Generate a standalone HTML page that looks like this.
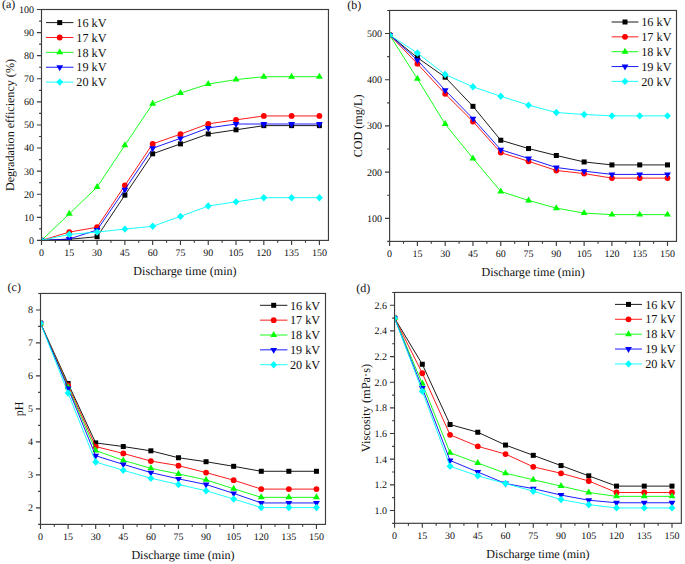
<!DOCTYPE html>
<html><head><meta charset="utf-8"><style>
html,body{margin:0;padding:0;background:#fff;}
body{width:685px;height:564px;position:relative;overflow:hidden;}
svg text{font-family:"Liberation Serif",serif;fill:#111;text-rendering:geometricPrecision;}
</style></head><body>
<svg width="685" height="564" viewBox="0 0 685 564" style="position:absolute;left:0;top:0">
<defs>
<clipPath id="clipa"><rect x="41.5" y="9.5" width="286.95" height="230.9"/></clipPath>
<clipPath id="clipb"><rect x="389.6" y="10.45" width="286.9" height="230.95000000000002"/></clipPath>
<clipPath id="clipc"><rect x="40.5" y="293.45" width="285.0" height="230.95"/></clipPath>
<clipPath id="clipd"><rect x="394.55" y="292.45" width="286.8" height="230.84999999999997"/></clipPath>
</defs>
<g><g clip-path="url(#clipa)"><polyline points="41.50,240.40 69.29,239.25 97.08,236.71 124.87,195.14 152.66,153.81 180.45,143.88 208.24,133.96 236.03,129.80 263.82,125.64 291.61,125.64 319.40,125.64" fill="none" stroke="#000000" stroke-width="0.9" stroke-linejoin="round"/><rect x="39.00" y="237.90" width="5.00" height="5.00" fill="#000000"/><rect x="66.79" y="236.75" width="5.00" height="5.00" fill="#000000"/><rect x="94.58" y="234.21" width="5.00" height="5.00" fill="#000000"/><rect x="122.37" y="192.64" width="5.00" height="5.00" fill="#000000"/><rect x="150.16" y="151.31" width="5.00" height="5.00" fill="#000000"/><rect x="177.95" y="141.38" width="5.00" height="5.00" fill="#000000"/><rect x="205.74" y="131.46" width="5.00" height="5.00" fill="#000000"/><rect x="233.53" y="127.30" width="5.00" height="5.00" fill="#000000"/><rect x="261.32" y="123.14" width="5.00" height="5.00" fill="#000000"/><rect x="289.11" y="123.14" width="5.00" height="5.00" fill="#000000"/><rect x="316.90" y="123.14" width="5.00" height="5.00" fill="#000000"/><polyline points="41.50,240.40 69.29,232.09 97.08,227.24 124.87,185.45 152.66,143.88 180.45,134.19 208.24,123.80 236.03,119.87 263.82,115.94 291.61,115.94 319.40,115.94" fill="none" stroke="#ff0000" stroke-width="0.9" stroke-linejoin="round"/><circle cx="41.50" cy="240.40" r="2.90" fill="#ff0000"/><circle cx="69.29" cy="232.09" r="2.90" fill="#ff0000"/><circle cx="97.08" cy="227.24" r="2.90" fill="#ff0000"/><circle cx="124.87" cy="185.45" r="2.90" fill="#ff0000"/><circle cx="152.66" cy="143.88" r="2.90" fill="#ff0000"/><circle cx="180.45" cy="134.19" r="2.90" fill="#ff0000"/><circle cx="208.24" cy="123.80" r="2.90" fill="#ff0000"/><circle cx="236.03" cy="119.87" r="2.90" fill="#ff0000"/><circle cx="263.82" cy="115.94" r="2.90" fill="#ff0000"/><circle cx="291.61" cy="115.94" r="2.90" fill="#ff0000"/><circle cx="319.40" cy="115.94" r="2.90" fill="#ff0000"/><polyline points="41.50,240.40 69.29,213.85 97.08,187.06 124.87,145.27 152.66,103.71 180.45,93.09 208.24,84.08 236.03,79.58 263.82,76.69 291.61,76.69 319.40,76.69" fill="none" stroke="#00ff00" stroke-width="0.9" stroke-linejoin="round"/><polygon points="41.50,236.42 44.95,242.39 38.05,242.39" fill="#00ff00"/><polygon points="69.29,209.86 72.74,215.84 65.84,215.84" fill="#00ff00"/><polygon points="97.08,183.08 100.53,189.05 93.63,189.05" fill="#00ff00"/><polygon points="124.87,141.29 128.32,147.26 121.42,147.26" fill="#00ff00"/><polygon points="152.66,99.72 156.11,105.70 149.21,105.70" fill="#00ff00"/><polygon points="180.45,89.10 183.90,95.08 177.00,95.08" fill="#00ff00"/><polygon points="208.24,80.10 211.69,86.07 204.79,86.07" fill="#00ff00"/><polygon points="236.03,75.59 239.48,81.57 232.58,81.57" fill="#00ff00"/><polygon points="263.82,72.71 267.27,78.68 260.37,78.68" fill="#00ff00"/><polygon points="291.61,72.71 295.06,78.68 288.16,78.68" fill="#00ff00"/><polygon points="319.40,72.71 322.85,78.68 315.95,78.68" fill="#00ff00"/><polyline points="41.50,240.40 69.29,239.01 97.08,230.01 124.87,189.60 152.66,148.27 180.45,138.34 208.24,127.95 236.03,124.03 263.82,124.03 291.61,124.03 319.40,124.03" fill="none" stroke="#0000ff" stroke-width="0.9" stroke-linejoin="round"/><polygon points="41.50,244.33 44.90,238.44 38.10,238.44" fill="#0000ff"/><polygon points="69.29,242.94 72.69,237.05 65.89,237.05" fill="#0000ff"/><polygon points="97.08,233.94 100.48,228.05 93.68,228.05" fill="#0000ff"/><polygon points="124.87,193.53 128.27,187.64 121.47,187.64" fill="#0000ff"/><polygon points="152.66,152.20 156.06,146.31 149.26,146.31" fill="#0000ff"/><polygon points="180.45,142.27 183.85,136.38 177.05,136.38" fill="#0000ff"/><polygon points="208.24,131.88 211.64,125.99 204.84,125.99" fill="#0000ff"/><polygon points="236.03,127.95 239.43,122.06 232.63,122.06" fill="#0000ff"/><polygon points="263.82,127.95 267.22,122.06 260.42,122.06" fill="#0000ff"/><polygon points="291.61,127.95 295.01,122.06 288.21,122.06" fill="#0000ff"/><polygon points="319.40,127.95 322.80,122.06 316.00,122.06" fill="#0000ff"/><polyline points="41.50,240.40 69.29,234.40 97.08,232.09 124.87,229.09 152.66,226.32 180.45,216.39 208.24,206.00 236.03,201.84 263.82,197.68 291.61,197.68 319.40,197.68" fill="none" stroke="#00ffff" stroke-width="0.9" stroke-linejoin="round"/><polygon points="41.50,236.70 44.95,240.40 41.50,244.10 38.05,240.40" fill="#00ffff"/><polygon points="69.29,230.70 72.74,234.40 69.29,238.10 65.84,234.40" fill="#00ffff"/><polygon points="97.08,228.39 100.53,232.09 97.08,235.79 93.63,232.09" fill="#00ffff"/><polygon points="124.87,225.39 128.32,229.09 124.87,232.79 121.42,229.09" fill="#00ffff"/><polygon points="152.66,222.62 156.11,226.32 152.66,230.02 149.21,226.32" fill="#00ffff"/><polygon points="180.45,212.69 183.90,216.39 180.45,220.09 177.00,216.39" fill="#00ffff"/><polygon points="208.24,202.30 211.69,206.00 208.24,209.70 204.79,206.00" fill="#00ffff"/><polygon points="236.03,198.14 239.48,201.84 236.03,205.54 232.58,201.84" fill="#00ffff"/><polygon points="263.82,193.98 267.27,197.68 263.82,201.38 260.37,197.68" fill="#00ffff"/><polygon points="291.61,193.98 295.06,197.68 291.61,201.38 288.16,197.68" fill="#00ffff"/><polygon points="319.40,193.98 322.85,197.68 319.40,201.38 315.95,197.68" fill="#00ffff"/></g><rect x="41.5" y="9.5" width="286.95" height="230.90" fill="none" stroke="#3c3c3c" stroke-width="1.15"/><text x="34.00" y="243.80" text-anchor="end" font-size="10.0">0</text><text x="34.00" y="220.71" text-anchor="end" font-size="10.0">10</text><text x="34.00" y="197.62" text-anchor="end" font-size="10.0">20</text><text x="34.00" y="174.53" text-anchor="end" font-size="10.0">30</text><text x="34.00" y="151.44" text-anchor="end" font-size="10.0">40</text><text x="34.00" y="128.35" text-anchor="end" font-size="10.0">50</text><text x="34.00" y="105.26" text-anchor="end" font-size="10.0">60</text><text x="34.00" y="82.17" text-anchor="end" font-size="10.0">70</text><text x="34.00" y="59.08" text-anchor="end" font-size="10.0">80</text><text x="34.00" y="35.99" text-anchor="end" font-size="10.0">90</text><text x="34.00" y="12.90" text-anchor="end" font-size="10.0">100</text><text x="41.50" y="256.00" text-anchor="middle" font-size="10.0">0</text><text x="69.29" y="256.00" text-anchor="middle" font-size="10.0">15</text><text x="97.08" y="256.00" text-anchor="middle" font-size="10.0">30</text><text x="124.87" y="256.00" text-anchor="middle" font-size="10.0">45</text><text x="152.66" y="256.00" text-anchor="middle" font-size="10.0">60</text><text x="180.45" y="256.00" text-anchor="middle" font-size="10.0">75</text><text x="208.24" y="256.00" text-anchor="middle" font-size="10.0">90</text><text x="236.03" y="256.00" text-anchor="middle" font-size="10.0">105</text><text x="263.82" y="256.00" text-anchor="middle" font-size="10.0">120</text><text x="291.61" y="256.00" text-anchor="middle" font-size="10.0">135</text><text x="319.40" y="256.00" text-anchor="middle" font-size="10.0">150</text><path d="M36.90,240.40H41.50M36.90,217.31H41.50M36.90,194.22H41.50M36.90,171.13H41.50M36.90,148.04H41.50M36.90,124.95H41.50M36.90,101.86H41.50M36.90,78.77H41.50M36.90,55.68H41.50M36.90,32.59H41.50M36.90,9.50H41.50M39.10,228.86H41.50M39.10,205.77H41.50M39.10,182.68H41.50M39.10,159.59H41.50M39.10,136.50H41.50M39.10,113.41H41.50M39.10,90.31H41.50M39.10,67.22H41.50M39.10,44.14H41.50M39.10,21.05H41.50M41.50,240.40V244.90M69.29,240.40V244.90M97.08,240.40V244.90M124.87,240.40V244.90M152.66,240.40V244.90M180.45,240.40V244.90M208.24,240.40V244.90M236.03,240.40V244.90M263.82,240.40V244.90M291.61,240.40V244.90M319.40,240.40V244.90M55.39,240.40V242.80M83.19,240.40V242.80M110.97,240.40V242.80M138.76,240.40V242.80M166.56,240.40V242.80M194.34,240.40V242.80M222.13,240.40V242.80M249.92,240.40V242.80M277.72,240.40V242.80M305.50,240.40V242.80" stroke="#3c3c3c" stroke-width="1.15" fill="none"/><text x="184.97" y="274.80" text-anchor="middle" font-size="12.1">Discharge time (min)</text><text transform="translate(14.20,125.05) rotate(-90)" text-anchor="middle" font-size="12.1">Degradation efficiency (%)</text><text x="1.90" y="7.90" font-size="12.0">(a)</text><line x1="46.0" y1="22.60" x2="73.4" y2="22.60" stroke="#000000" stroke-width="0.9"/><rect x="57.20" y="20.10" width="5.00" height="5.00" fill="#000000"/><text x="76.3" y="26.80" font-size="12.25">16 kV</text><line x1="46.0" y1="37.48" x2="73.4" y2="37.48" stroke="#ff0000" stroke-width="0.9"/><circle cx="59.70" cy="37.48" r="2.90" fill="#ff0000"/><text x="76.3" y="41.68" font-size="12.25">17 kV</text><line x1="46.0" y1="52.36" x2="73.4" y2="52.36" stroke="#00ff00" stroke-width="0.9"/><polygon points="59.70,48.38 63.15,54.35 56.25,54.35" fill="#00ff00"/><text x="76.3" y="56.56" font-size="12.25">18 kV</text><line x1="46.0" y1="67.24" x2="73.4" y2="67.24" stroke="#0000ff" stroke-width="0.9"/><polygon points="59.70,71.17 63.10,65.28 56.30,65.28" fill="#0000ff"/><text x="76.3" y="71.44" font-size="12.25">19 kV</text><line x1="46.0" y1="82.12" x2="73.4" y2="82.12" stroke="#00ffff" stroke-width="0.9"/><polygon points="59.70,78.42 63.15,82.12 59.70,85.82 56.25,82.12" fill="#00ffff"/><text x="76.3" y="86.32" font-size="12.25">20 kV</text></g>
<g><g clip-path="url(#clipb)"><polyline points="389.60,34.93 417.39,57.66 445.18,77.19 472.97,106.34 500.76,140.24 528.55,148.56 556.34,155.49 584.13,161.95 611.92,164.91 639.71,164.91 667.50,164.91" fill="none" stroke="#000000" stroke-width="0.9" stroke-linejoin="round"/><rect x="387.10" y="32.43" width="5.00" height="5.00" fill="#000000"/><rect x="414.89" y="55.16" width="5.00" height="5.00" fill="#000000"/><rect x="442.68" y="74.69" width="5.00" height="5.00" fill="#000000"/><rect x="470.47" y="103.84" width="5.00" height="5.00" fill="#000000"/><rect x="498.26" y="137.74" width="5.00" height="5.00" fill="#000000"/><rect x="526.05" y="146.06" width="5.00" height="5.00" fill="#000000"/><rect x="553.84" y="152.99" width="5.00" height="5.00" fill="#000000"/><rect x="581.63" y="159.45" width="5.00" height="5.00" fill="#000000"/><rect x="609.42" y="162.41" width="5.00" height="5.00" fill="#000000"/><rect x="637.21" y="162.41" width="5.00" height="5.00" fill="#000000"/><rect x="665.00" y="162.41" width="5.00" height="5.00" fill="#000000"/><polyline points="389.60,34.93 417.39,63.71 445.18,93.87 472.97,121.54 500.76,152.62 528.55,161.31 556.34,170.50 584.13,173.59 611.92,178.12 639.71,178.12 667.50,178.12" fill="none" stroke="#ff0000" stroke-width="0.9" stroke-linejoin="round"/><circle cx="389.60" cy="34.93" r="2.90" fill="#ff0000"/><circle cx="417.39" cy="63.71" r="2.90" fill="#ff0000"/><circle cx="445.18" cy="93.87" r="2.90" fill="#ff0000"/><circle cx="472.97" cy="121.54" r="2.90" fill="#ff0000"/><circle cx="500.76" cy="152.62" r="2.90" fill="#ff0000"/><circle cx="528.55" cy="161.31" r="2.90" fill="#ff0000"/><circle cx="556.34" cy="170.50" r="2.90" fill="#ff0000"/><circle cx="584.13" cy="173.59" r="2.90" fill="#ff0000"/><circle cx="611.92" cy="178.12" r="2.90" fill="#ff0000"/><circle cx="639.71" cy="178.12" r="2.90" fill="#ff0000"/><circle cx="667.50" cy="178.12" r="2.90" fill="#ff0000"/><polyline points="389.60,34.93 417.39,78.81 445.18,124.08 472.97,158.40 500.76,191.47 528.55,200.43 556.34,208.14 584.13,213.09 611.92,214.61 639.71,214.61 667.50,214.61" fill="none" stroke="#00ff00" stroke-width="0.9" stroke-linejoin="round"/><polygon points="389.60,30.95 393.05,36.92 386.15,36.92" fill="#00ff00"/><polygon points="417.39,74.83 420.84,80.80 413.94,80.80" fill="#00ff00"/><polygon points="445.18,120.09 448.63,126.07 441.73,126.07" fill="#00ff00"/><polygon points="472.97,154.41 476.42,160.39 469.52,160.39" fill="#00ff00"/><polygon points="500.76,187.48 504.21,193.46 497.31,193.46" fill="#00ff00"/><polygon points="528.55,196.45 532.00,202.42 525.10,202.42" fill="#00ff00"/><polygon points="556.34,204.16 559.79,210.14 552.89,210.14" fill="#00ff00"/><polygon points="584.13,209.10 587.58,215.08 580.68,215.08" fill="#00ff00"/><polygon points="611.92,210.63 615.37,216.60 608.47,216.60" fill="#00ff00"/><polygon points="639.71,210.63 643.16,216.60 636.26,216.60" fill="#00ff00"/><polygon points="667.50,210.63 670.95,216.60 664.05,216.60" fill="#00ff00"/><polyline points="389.60,34.93 417.39,60.10 445.18,90.22 472.97,118.63 500.76,149.71 528.55,158.49 556.34,167.50 584.13,171.15 611.92,174.42 639.71,174.42 667.50,174.42" fill="none" stroke="#0000ff" stroke-width="0.9" stroke-linejoin="round"/><polygon points="389.60,38.86 393.00,32.97 386.20,32.97" fill="#0000ff"/><polygon points="417.39,64.03 420.79,58.14 413.99,58.14" fill="#0000ff"/><polygon points="445.18,94.15 448.58,88.26 441.78,88.26" fill="#0000ff"/><polygon points="472.97,122.55 476.37,116.66 469.57,116.66" fill="#0000ff"/><polygon points="500.76,153.64 504.16,147.75 497.36,147.75" fill="#0000ff"/><polygon points="528.55,162.41 531.95,156.53 525.15,156.53" fill="#0000ff"/><polygon points="556.34,171.42 559.74,165.53 552.94,165.53" fill="#0000ff"/><polygon points="584.13,175.07 587.53,169.18 580.73,169.18" fill="#0000ff"/><polygon points="611.92,178.35 615.32,172.46 608.52,172.46" fill="#0000ff"/><polygon points="639.71,178.35 643.11,172.46 636.31,172.46" fill="#0000ff"/><polygon points="667.50,178.35 670.90,172.46 664.10,172.46" fill="#0000ff"/><polyline points="389.60,34.93 417.39,53.04 445.18,74.56 472.97,86.80 500.76,96.27 528.55,105.14 556.34,112.53 584.13,114.47 611.92,115.86 639.71,115.86 667.50,115.86" fill="none" stroke="#00ffff" stroke-width="0.9" stroke-linejoin="round"/><polygon points="389.60,31.23 393.05,34.93 389.60,38.63 386.15,34.93" fill="#00ffff"/><polygon points="417.39,49.34 420.84,53.04 417.39,56.74 413.94,53.04" fill="#00ffff"/><polygon points="445.18,70.86 448.63,74.56 445.18,78.26 441.73,74.56" fill="#00ffff"/><polygon points="472.97,83.10 476.42,86.80 472.97,90.50 469.52,86.80" fill="#00ffff"/><polygon points="500.76,92.57 504.21,96.27 500.76,99.97 497.31,96.27" fill="#00ffff"/><polygon points="528.55,101.44 532.00,105.14 528.55,108.84 525.10,105.14" fill="#00ffff"/><polygon points="556.34,108.83 559.79,112.53 556.34,116.23 552.89,112.53" fill="#00ffff"/><polygon points="584.13,110.77 587.58,114.47 584.13,118.17 580.68,114.47" fill="#00ffff"/><polygon points="611.92,112.16 615.37,115.86 611.92,119.56 608.47,115.86" fill="#00ffff"/><polygon points="639.71,112.16 643.16,115.86 639.71,119.56 636.26,115.86" fill="#00ffff"/><polygon points="667.50,112.16 670.95,115.86 667.50,119.56 664.05,115.86" fill="#00ffff"/></g><rect x="389.6" y="10.45" width="286.90" height="230.95" fill="none" stroke="#3c3c3c" stroke-width="1.15"/><text x="382.10" y="221.71" text-anchor="end" font-size="10.0">100</text><text x="382.10" y="175.52" text-anchor="end" font-size="10.0">200</text><text x="382.10" y="129.32" text-anchor="end" font-size="10.0">300</text><text x="382.10" y="83.14" text-anchor="end" font-size="10.0">400</text><text x="382.10" y="36.94" text-anchor="end" font-size="10.0">500</text><text x="389.60" y="257.00" text-anchor="middle" font-size="10.0">0</text><text x="417.39" y="257.00" text-anchor="middle" font-size="10.0">15</text><text x="445.18" y="257.00" text-anchor="middle" font-size="10.0">30</text><text x="472.97" y="257.00" text-anchor="middle" font-size="10.0">45</text><text x="500.76" y="257.00" text-anchor="middle" font-size="10.0">60</text><text x="528.55" y="257.00" text-anchor="middle" font-size="10.0">75</text><text x="556.34" y="257.00" text-anchor="middle" font-size="10.0">90</text><text x="584.13" y="257.00" text-anchor="middle" font-size="10.0">105</text><text x="611.92" y="257.00" text-anchor="middle" font-size="10.0">120</text><text x="639.71" y="257.00" text-anchor="middle" font-size="10.0">135</text><text x="667.50" y="257.00" text-anchor="middle" font-size="10.0">150</text><path d="M385.00,218.31H389.60M385.00,172.12H389.60M385.00,125.92H389.60M385.00,79.74H389.60M385.00,33.54H389.60M387.20,241.40H389.60M387.20,195.21H389.60M387.20,149.02H389.60M387.20,102.83H389.60M387.20,56.64H389.60M387.20,10.45H389.60M389.60,241.40V245.90M417.39,241.40V245.90M445.18,241.40V245.90M472.97,241.40V245.90M500.76,241.40V245.90M528.55,241.40V245.90M556.34,241.40V245.90M584.13,241.40V245.90M611.92,241.40V245.90M639.71,241.40V245.90M667.50,241.40V245.90M403.50,241.40V243.80M431.29,241.40V243.80M459.08,241.40V243.80M486.87,241.40V243.80M514.65,241.40V243.80M542.44,241.40V243.80M570.24,241.40V243.80M598.02,241.40V243.80M625.82,241.40V243.80M653.61,241.40V243.80" stroke="#3c3c3c" stroke-width="1.15" fill="none"/><text x="533.05" y="275.80" text-anchor="middle" font-size="12.1">Discharge time (min)</text><text transform="translate(362.40,125.90) rotate(-90)" text-anchor="middle" font-size="12.1">COD (mg/L)</text><text x="347.20" y="8.50" font-size="12.0">(b)</text><line x1="611.6" y1="22.00" x2="638.4" y2="22.00" stroke="#000000" stroke-width="0.9"/><rect x="622.50" y="19.50" width="5.00" height="5.00" fill="#000000"/><text x="641.2" y="26.20" font-size="12.25">16 kV</text><line x1="611.6" y1="36.85" x2="638.4" y2="36.85" stroke="#ff0000" stroke-width="0.9"/><circle cx="625.00" cy="36.85" r="2.90" fill="#ff0000"/><text x="641.2" y="41.05" font-size="12.25">17 kV</text><line x1="611.6" y1="51.70" x2="638.4" y2="51.70" stroke="#00ff00" stroke-width="0.9"/><polygon points="625.00,47.72 628.45,53.69 621.55,53.69" fill="#00ff00"/><text x="641.2" y="55.90" font-size="12.25">18 kV</text><line x1="611.6" y1="66.55" x2="638.4" y2="66.55" stroke="#0000ff" stroke-width="0.9"/><polygon points="625.00,70.48 628.40,64.59 621.60,64.59" fill="#0000ff"/><text x="641.2" y="70.75" font-size="12.25">19 kV</text><line x1="611.6" y1="81.40" x2="638.4" y2="81.40" stroke="#00ffff" stroke-width="0.9"/><polygon points="625.00,77.70 628.45,81.40 625.00,85.10 621.55,81.40" fill="#00ffff"/><text x="641.2" y="85.60" font-size="12.25">20 kV</text></g>
<g><g clip-path="url(#clipc)"><polyline points="40.50,323.14 68.09,383.52 95.69,442.91 123.28,446.54 150.88,450.83 178.47,457.75 206.07,461.71 233.66,466.33 261.26,471.28 288.86,471.28 316.45,471.28" fill="none" stroke="#000000" stroke-width="0.9" stroke-linejoin="round"/><rect x="38.00" y="320.64" width="5.00" height="5.00" fill="#000000"/><rect x="65.59" y="381.02" width="5.00" height="5.00" fill="#000000"/><rect x="93.19" y="440.41" width="5.00" height="5.00" fill="#000000"/><rect x="120.78" y="444.04" width="5.00" height="5.00" fill="#000000"/><rect x="148.38" y="448.33" width="5.00" height="5.00" fill="#000000"/><rect x="175.97" y="455.25" width="5.00" height="5.00" fill="#000000"/><rect x="203.57" y="459.21" width="5.00" height="5.00" fill="#000000"/><rect x="231.16" y="463.83" width="5.00" height="5.00" fill="#000000"/><rect x="258.76" y="468.78" width="5.00" height="5.00" fill="#000000"/><rect x="286.36" y="468.78" width="5.00" height="5.00" fill="#000000"/><rect x="313.95" y="468.78" width="5.00" height="5.00" fill="#000000"/><polyline points="40.50,323.14 68.09,385.50 95.69,446.54 123.28,453.47 150.88,461.05 178.47,465.67 206.07,472.60 233.66,480.19 261.26,489.10 288.86,489.10 316.45,489.10" fill="none" stroke="#ff0000" stroke-width="0.9" stroke-linejoin="round"/><circle cx="40.50" cy="323.14" r="2.90" fill="#ff0000"/><circle cx="68.09" cy="385.50" r="2.90" fill="#ff0000"/><circle cx="95.69" cy="446.54" r="2.90" fill="#ff0000"/><circle cx="123.28" cy="453.47" r="2.90" fill="#ff0000"/><circle cx="150.88" cy="461.05" r="2.90" fill="#ff0000"/><circle cx="178.47" cy="465.67" r="2.90" fill="#ff0000"/><circle cx="206.07" cy="472.60" r="2.90" fill="#ff0000"/><circle cx="233.66" cy="480.19" r="2.90" fill="#ff0000"/><circle cx="261.26" cy="489.10" r="2.90" fill="#ff0000"/><circle cx="288.86" cy="489.10" r="2.90" fill="#ff0000"/><circle cx="316.45" cy="489.10" r="2.90" fill="#ff0000"/><polyline points="40.50,323.14 68.09,387.15 95.69,450.50 123.28,460.39 150.88,468.31 178.47,473.92 206.07,479.86 233.66,488.77 261.26,497.35 288.86,497.35 316.45,497.35" fill="none" stroke="#00ff00" stroke-width="0.9" stroke-linejoin="round"/><polygon points="40.50,319.16 43.95,325.14 37.05,325.14" fill="#00ff00"/><polygon points="68.09,383.17 71.55,389.14 64.64,389.14" fill="#00ff00"/><polygon points="95.69,446.51 99.14,452.49 92.24,452.49" fill="#00ff00"/><polygon points="123.28,456.41 126.73,462.39 119.83,462.39" fill="#00ff00"/><polygon points="150.88,464.33 154.33,470.30 147.43,470.30" fill="#00ff00"/><polygon points="178.47,469.94 181.92,475.91 175.03,475.91" fill="#00ff00"/><polygon points="206.07,475.88 209.52,481.85 202.62,481.85" fill="#00ff00"/><polygon points="233.66,484.78 237.11,490.76 230.22,490.76" fill="#00ff00"/><polygon points="261.26,493.36 264.71,499.34 257.81,499.34" fill="#00ff00"/><polygon points="288.86,493.36 292.31,499.34 285.41,499.34" fill="#00ff00"/><polygon points="316.45,493.36 319.90,499.34 313.00,499.34" fill="#00ff00"/><polyline points="40.50,323.14 68.09,388.47 95.69,455.77 123.28,464.35 150.88,472.60 178.47,478.87 206.07,484.48 233.66,493.39 261.26,502.95 288.86,502.95 316.45,502.95" fill="none" stroke="#0000ff" stroke-width="0.9" stroke-linejoin="round"/><polygon points="40.50,327.07 43.90,321.18 37.10,321.18" fill="#0000ff"/><polygon points="68.09,392.40 71.50,386.51 64.69,386.51" fill="#0000ff"/><polygon points="95.69,459.70 99.09,453.81 92.29,453.81" fill="#0000ff"/><polygon points="123.28,468.28 126.69,462.39 119.88,462.39" fill="#0000ff"/><polygon points="150.88,476.53 154.28,470.64 147.48,470.64" fill="#0000ff"/><polygon points="178.47,482.80 181.88,476.91 175.07,476.91" fill="#0000ff"/><polygon points="206.07,488.40 209.47,482.52 202.67,482.52" fill="#0000ff"/><polygon points="233.66,497.31 237.06,491.42 230.26,491.42" fill="#0000ff"/><polygon points="261.26,506.88 264.66,500.99 257.86,500.99" fill="#0000ff"/><polygon points="288.86,506.88 292.25,500.99 285.46,500.99" fill="#0000ff"/><polygon points="316.45,506.88 319.85,500.99 313.05,500.99" fill="#0000ff"/><polyline points="40.50,323.14 68.09,393.09 95.69,462.04 123.28,470.29 150.88,478.21 178.47,484.48 206.07,490.75 233.66,499.00 261.26,507.57 288.86,507.57 316.45,507.57" fill="none" stroke="#00ffff" stroke-width="0.9" stroke-linejoin="round"/><polygon points="40.50,319.44 43.95,323.14 40.50,326.84 37.05,323.14" fill="#00ffff"/><polygon points="68.09,389.39 71.55,393.09 68.09,396.79 64.64,393.09" fill="#00ffff"/><polygon points="95.69,458.34 99.14,462.04 95.69,465.74 92.24,462.04" fill="#00ffff"/><polygon points="123.28,466.59 126.73,470.29 123.28,473.99 119.83,470.29" fill="#00ffff"/><polygon points="150.88,474.51 154.33,478.21 150.88,481.91 147.43,478.21" fill="#00ffff"/><polygon points="178.47,480.78 181.92,484.48 178.47,488.18 175.03,484.48" fill="#00ffff"/><polygon points="206.07,487.05 209.52,490.75 206.07,494.45 202.62,490.75" fill="#00ffff"/><polygon points="233.66,495.30 237.11,499.00 233.66,502.70 230.22,499.00" fill="#00ffff"/><polygon points="261.26,503.87 264.71,507.57 261.26,511.27 257.81,507.57" fill="#00ffff"/><polygon points="288.86,503.87 292.31,507.57 288.86,511.27 285.41,507.57" fill="#00ffff"/><polygon points="316.45,503.87 319.90,507.57 316.45,511.27 313.00,507.57" fill="#00ffff"/></g><rect x="40.5" y="293.45" width="285.00" height="230.95" fill="none" stroke="#3c3c3c" stroke-width="1.15"/><text x="33.00" y="511.30" text-anchor="end" font-size="10.0">2</text><text x="33.00" y="478.31" text-anchor="end" font-size="10.0">3</text><text x="33.00" y="445.32" text-anchor="end" font-size="10.0">4</text><text x="33.00" y="412.32" text-anchor="end" font-size="10.0">5</text><text x="33.00" y="379.33" text-anchor="end" font-size="10.0">6</text><text x="33.00" y="346.34" text-anchor="end" font-size="10.0">7</text><text x="33.00" y="313.35" text-anchor="end" font-size="10.0">8</text><text x="40.50" y="540.00" text-anchor="middle" font-size="10.0">0</text><text x="68.09" y="540.00" text-anchor="middle" font-size="10.0">15</text><text x="95.69" y="540.00" text-anchor="middle" font-size="10.0">30</text><text x="123.28" y="540.00" text-anchor="middle" font-size="10.0">45</text><text x="150.88" y="540.00" text-anchor="middle" font-size="10.0">60</text><text x="178.47" y="540.00" text-anchor="middle" font-size="10.0">75</text><text x="206.07" y="540.00" text-anchor="middle" font-size="10.0">90</text><text x="233.66" y="540.00" text-anchor="middle" font-size="10.0">105</text><text x="261.26" y="540.00" text-anchor="middle" font-size="10.0">120</text><text x="288.86" y="540.00" text-anchor="middle" font-size="10.0">135</text><text x="316.45" y="540.00" text-anchor="middle" font-size="10.0">150</text><path d="M35.90,507.90H40.50M35.90,474.91H40.50M35.90,441.92H40.50M35.90,408.92H40.50M35.90,375.93H40.50M35.90,342.94H40.50M35.90,309.95H40.50M38.10,524.40H40.50M38.10,491.41H40.50M38.10,458.41H40.50M38.10,425.42H40.50M38.10,392.43H40.50M38.10,359.44H40.50M38.10,326.44H40.50M38.10,293.45H40.50M40.50,524.40V528.90M68.09,524.40V528.90M95.69,524.40V528.90M123.28,524.40V528.90M150.88,524.40V528.90M178.47,524.40V528.90M206.07,524.40V528.90M233.66,524.40V528.90M261.26,524.40V528.90M288.86,524.40V528.90M316.45,524.40V528.90M54.30,524.40V526.80M81.89,524.40V526.80M109.49,524.40V526.80M137.08,524.40V526.80M164.68,524.40V526.80M192.27,524.40V526.80M219.87,524.40V526.80M247.46,524.40V526.80M275.06,524.40V526.80M302.65,524.40V526.80" stroke="#3c3c3c" stroke-width="1.15" fill="none"/><text x="183.00" y="558.80" text-anchor="middle" font-size="12.1">Discharge time (min)</text><text transform="translate(22.80,408.90) rotate(-90)" text-anchor="middle" font-size="12.1">pH</text><text x="7.60" y="291.30" font-size="12.0">(c)</text><line x1="260.0" y1="305.30" x2="287.4" y2="305.30" stroke="#000000" stroke-width="0.9"/><rect x="271.20" y="302.80" width="5.00" height="5.00" fill="#000000"/><text x="289.9" y="309.50" font-size="12.25">16 kV</text><line x1="260.0" y1="320.15" x2="287.4" y2="320.15" stroke="#ff0000" stroke-width="0.9"/><circle cx="273.70" cy="320.15" r="2.90" fill="#ff0000"/><text x="289.9" y="324.35" font-size="12.25">17 kV</text><line x1="260.0" y1="335.00" x2="287.4" y2="335.00" stroke="#00ff00" stroke-width="0.9"/><polygon points="273.70,331.02 277.15,336.99 270.25,336.99" fill="#00ff00"/><text x="289.9" y="339.20" font-size="12.25">18 kV</text><line x1="260.0" y1="349.85" x2="287.4" y2="349.85" stroke="#0000ff" stroke-width="0.9"/><polygon points="273.70,353.78 277.10,347.89 270.30,347.89" fill="#0000ff"/><text x="289.9" y="354.05" font-size="12.25">19 kV</text><line x1="260.0" y1="364.70" x2="287.4" y2="364.70" stroke="#00ffff" stroke-width="0.9"/><polygon points="273.70,361.00 277.15,364.70 273.70,368.40 270.25,364.70" fill="#00ffff"/><text x="289.9" y="368.90" font-size="12.25">20 kV</text></g>
<g><g clip-path="url(#clipd)"><polyline points="394.55,318.10 422.30,364.27 450.04,424.55 477.79,432.24 505.53,445.07 533.27,455.33 561.02,465.59 588.76,475.85 616.51,486.11 644.25,486.11 672.00,486.11" fill="none" stroke="#000000" stroke-width="0.9" stroke-linejoin="round"/><rect x="392.05" y="315.60" width="5.00" height="5.00" fill="#000000"/><rect x="419.80" y="361.77" width="5.00" height="5.00" fill="#000000"/><rect x="447.54" y="422.05" width="5.00" height="5.00" fill="#000000"/><rect x="475.29" y="429.74" width="5.00" height="5.00" fill="#000000"/><rect x="503.03" y="442.57" width="5.00" height="5.00" fill="#000000"/><rect x="530.77" y="452.83" width="5.00" height="5.00" fill="#000000"/><rect x="558.52" y="463.09" width="5.00" height="5.00" fill="#000000"/><rect x="586.26" y="473.35" width="5.00" height="5.00" fill="#000000"/><rect x="614.01" y="483.61" width="5.00" height="5.00" fill="#000000"/><rect x="641.75" y="483.61" width="5.00" height="5.00" fill="#000000"/><rect x="669.50" y="483.61" width="5.00" height="5.00" fill="#000000"/><polyline points="394.55,318.10 422.30,373.25 450.04,434.81 477.79,446.35 505.53,454.04 533.27,466.87 561.02,473.28 588.76,480.98 616.51,492.52 644.25,492.52 672.00,492.52" fill="none" stroke="#ff0000" stroke-width="0.9" stroke-linejoin="round"/><circle cx="394.55" cy="318.10" r="2.90" fill="#ff0000"/><circle cx="422.30" cy="373.25" r="2.90" fill="#ff0000"/><circle cx="450.04" cy="434.81" r="2.90" fill="#ff0000"/><circle cx="477.79" cy="446.35" r="2.90" fill="#ff0000"/><circle cx="505.53" cy="454.04" r="2.90" fill="#ff0000"/><circle cx="533.27" cy="466.87" r="2.90" fill="#ff0000"/><circle cx="561.02" cy="473.28" r="2.90" fill="#ff0000"/><circle cx="588.76" cy="480.98" r="2.90" fill="#ff0000"/><circle cx="616.51" cy="492.52" r="2.90" fill="#ff0000"/><circle cx="644.25" cy="492.52" r="2.90" fill="#ff0000"/><circle cx="672.00" cy="492.52" r="2.90" fill="#ff0000"/><polyline points="394.55,318.10 422.30,383.51 450.04,452.76 477.79,463.02 505.53,473.28 533.27,479.69 561.02,486.11 588.76,492.52 616.51,496.37 644.25,496.37 672.00,496.37" fill="none" stroke="#00ff00" stroke-width="0.9" stroke-linejoin="round"/><polygon points="394.55,314.12 398.00,320.09 391.10,320.09" fill="#00ff00"/><polygon points="422.30,379.52 425.75,385.50 418.85,385.50" fill="#00ff00"/><polygon points="450.04,448.78 453.49,454.75 446.59,454.75" fill="#00ff00"/><polygon points="477.79,459.04 481.24,465.01 474.34,465.01" fill="#00ff00"/><polygon points="505.53,469.30 508.98,475.27 502.08,475.27" fill="#00ff00"/><polygon points="533.27,475.71 536.73,481.69 529.82,481.69" fill="#00ff00"/><polygon points="561.02,482.12 564.47,488.10 557.57,488.10" fill="#00ff00"/><polygon points="588.76,488.54 592.22,494.51 585.31,494.51" fill="#00ff00"/><polygon points="616.51,492.38 619.96,498.36 613.06,498.36" fill="#00ff00"/><polygon points="644.25,492.38 647.71,498.36 640.80,498.36" fill="#00ff00"/><polygon points="672.00,492.38 675.45,498.36 668.55,498.36" fill="#00ff00"/><polyline points="394.55,318.10 422.30,388.00 450.04,460.46 477.79,472.00 505.53,483.54 533.27,488.67 561.02,495.08 588.76,500.21 616.51,502.78 644.25,502.78 672.00,502.78" fill="none" stroke="#0000ff" stroke-width="0.9" stroke-linejoin="round"/><polygon points="394.55,322.03 397.95,316.14 391.15,316.14" fill="#0000ff"/><polygon points="422.30,391.92 425.69,386.03 418.90,386.03" fill="#0000ff"/><polygon points="450.04,464.38 453.44,458.49 446.64,458.49" fill="#0000ff"/><polygon points="477.79,475.93 481.19,470.04 474.39,470.04" fill="#0000ff"/><polygon points="505.53,487.47 508.93,481.58 502.13,481.58" fill="#0000ff"/><polygon points="533.27,492.60 536.67,486.71 529.88,486.71" fill="#0000ff"/><polygon points="561.02,499.01 564.42,493.12 557.62,493.12" fill="#0000ff"/><polygon points="588.76,504.14 592.16,498.25 585.37,498.25" fill="#0000ff"/><polygon points="616.51,506.71 619.91,500.82 613.11,500.82" fill="#0000ff"/><polygon points="644.25,506.71 647.65,500.82 640.86,500.82" fill="#0000ff"/><polygon points="672.00,506.71 675.40,500.82 668.60,500.82" fill="#0000ff"/><polyline points="394.55,318.10 422.30,391.20 450.04,466.23 477.79,475.85 505.53,483.54 533.27,491.24 561.02,499.57 588.76,504.70 616.51,507.91 644.25,507.91 672.00,507.91" fill="none" stroke="#00ffff" stroke-width="0.9" stroke-linejoin="round"/><polygon points="394.55,314.40 398.00,318.10 394.55,321.80 391.10,318.10" fill="#00ffff"/><polygon points="422.30,387.50 425.75,391.20 422.30,394.90 418.85,391.20" fill="#00ffff"/><polygon points="450.04,462.53 453.49,466.23 450.04,469.93 446.59,466.23" fill="#00ffff"/><polygon points="477.79,472.15 481.24,475.85 477.79,479.55 474.34,475.85" fill="#00ffff"/><polygon points="505.53,479.84 508.98,483.54 505.53,487.24 502.08,483.54" fill="#00ffff"/><polygon points="533.27,487.54 536.73,491.24 533.27,494.94 529.82,491.24" fill="#00ffff"/><polygon points="561.02,495.87 564.47,499.57 561.02,503.27 557.57,499.57" fill="#00ffff"/><polygon points="588.76,501.00 592.22,504.70 588.76,508.40 585.31,504.70" fill="#00ffff"/><polygon points="616.51,504.21 619.96,507.91 616.51,511.61 613.06,507.91" fill="#00ffff"/><polygon points="644.25,504.21 647.71,507.91 644.25,511.61 640.80,507.91" fill="#00ffff"/><polygon points="672.00,504.21 675.45,507.91 672.00,511.61 668.55,507.91" fill="#00ffff"/></g><rect x="394.55" y="292.45" width="286.80" height="230.85" fill="none" stroke="#3c3c3c" stroke-width="1.15"/><text x="387.05" y="513.88" text-anchor="end" font-size="10.0">1.0</text><text x="387.05" y="488.22" text-anchor="end" font-size="10.0">1.2</text><text x="387.05" y="462.57" text-anchor="end" font-size="10.0">1.4</text><text x="387.05" y="436.92" text-anchor="end" font-size="10.0">1.6</text><text x="387.05" y="411.27" text-anchor="end" font-size="10.0">1.8</text><text x="387.05" y="385.62" text-anchor="end" font-size="10.0">2.0</text><text x="387.05" y="359.97" text-anchor="end" font-size="10.0">2.2</text><text x="387.05" y="334.32" text-anchor="end" font-size="10.0">2.4</text><text x="387.05" y="308.67" text-anchor="end" font-size="10.0">2.6</text><text x="394.55" y="538.90" text-anchor="middle" font-size="10.0">0</text><text x="422.30" y="538.90" text-anchor="middle" font-size="10.0">15</text><text x="450.04" y="538.90" text-anchor="middle" font-size="10.0">30</text><text x="477.79" y="538.90" text-anchor="middle" font-size="10.0">45</text><text x="505.53" y="538.90" text-anchor="middle" font-size="10.0">60</text><text x="533.27" y="538.90" text-anchor="middle" font-size="10.0">75</text><text x="561.02" y="538.90" text-anchor="middle" font-size="10.0">90</text><text x="588.76" y="538.90" text-anchor="middle" font-size="10.0">105</text><text x="616.51" y="538.90" text-anchor="middle" font-size="10.0">120</text><text x="644.25" y="538.90" text-anchor="middle" font-size="10.0">135</text><text x="672.00" y="538.90" text-anchor="middle" font-size="10.0">150</text><path d="M389.95,510.47H394.55M389.95,484.82H394.55M389.95,459.17H394.55M389.95,433.52H394.55M389.95,407.88H394.55M389.95,382.23H394.55M389.95,356.57H394.55M389.95,330.92H394.55M389.95,305.27H394.55M392.15,523.30H394.55M392.15,497.65H394.55M392.15,472.00H394.55M392.15,446.35H394.55M392.15,420.70H394.55M392.15,395.05H394.55M392.15,369.40H394.55M392.15,343.75H394.55M392.15,318.10H394.55M392.15,292.45H394.55M394.55,523.30V527.80M422.30,523.30V527.80M450.04,523.30V527.80M477.79,523.30V527.80M505.53,523.30V527.80M533.27,523.30V527.80M561.02,523.30V527.80M588.76,523.30V527.80M616.51,523.30V527.80M644.25,523.30V527.80M672.00,523.30V527.80M408.42,523.30V525.70M436.17,523.30V525.70M463.91,523.30V525.70M491.66,523.30V525.70M519.40,523.30V525.70M547.15,523.30V525.70M574.89,523.30V525.70M602.64,523.30V525.70M630.38,523.30V525.70M658.13,523.30V525.70" stroke="#3c3c3c" stroke-width="1.15" fill="none"/><text x="537.95" y="557.70" text-anchor="middle" font-size="12.1">Discharge time (min)</text><text transform="translate(369.60,408.05) rotate(-90)" text-anchor="middle" font-size="12.4">Viscosity (mPa·s)</text><text x="356.20" y="291.80" font-size="12.0">(d)</text><line x1="615.0" y1="304.40" x2="642.0" y2="304.40" stroke="#000000" stroke-width="0.9"/><rect x="626.00" y="301.90" width="5.00" height="5.00" fill="#000000"/><text x="645.2" y="308.60" font-size="12.25">16 kV</text><line x1="615.0" y1="319.28" x2="642.0" y2="319.28" stroke="#ff0000" stroke-width="0.9"/><circle cx="628.50" cy="319.28" r="2.90" fill="#ff0000"/><text x="645.2" y="323.48" font-size="12.25">17 kV</text><line x1="615.0" y1="334.16" x2="642.0" y2="334.16" stroke="#00ff00" stroke-width="0.9"/><polygon points="628.50,330.18 631.95,336.15 625.05,336.15" fill="#00ff00"/><text x="645.2" y="338.36" font-size="12.25">18 kV</text><line x1="615.0" y1="349.04" x2="642.0" y2="349.04" stroke="#0000ff" stroke-width="0.9"/><polygon points="628.50,352.97 631.90,347.08 625.10,347.08" fill="#0000ff"/><text x="645.2" y="353.24" font-size="12.25">19 kV</text><line x1="615.0" y1="363.92" x2="642.0" y2="363.92" stroke="#00ffff" stroke-width="0.9"/><polygon points="628.50,360.22 631.95,363.92 628.50,367.62 625.05,363.92" fill="#00ffff"/><text x="645.2" y="368.12" font-size="12.25">20 kV</text></g>
</svg>
</body></html>
